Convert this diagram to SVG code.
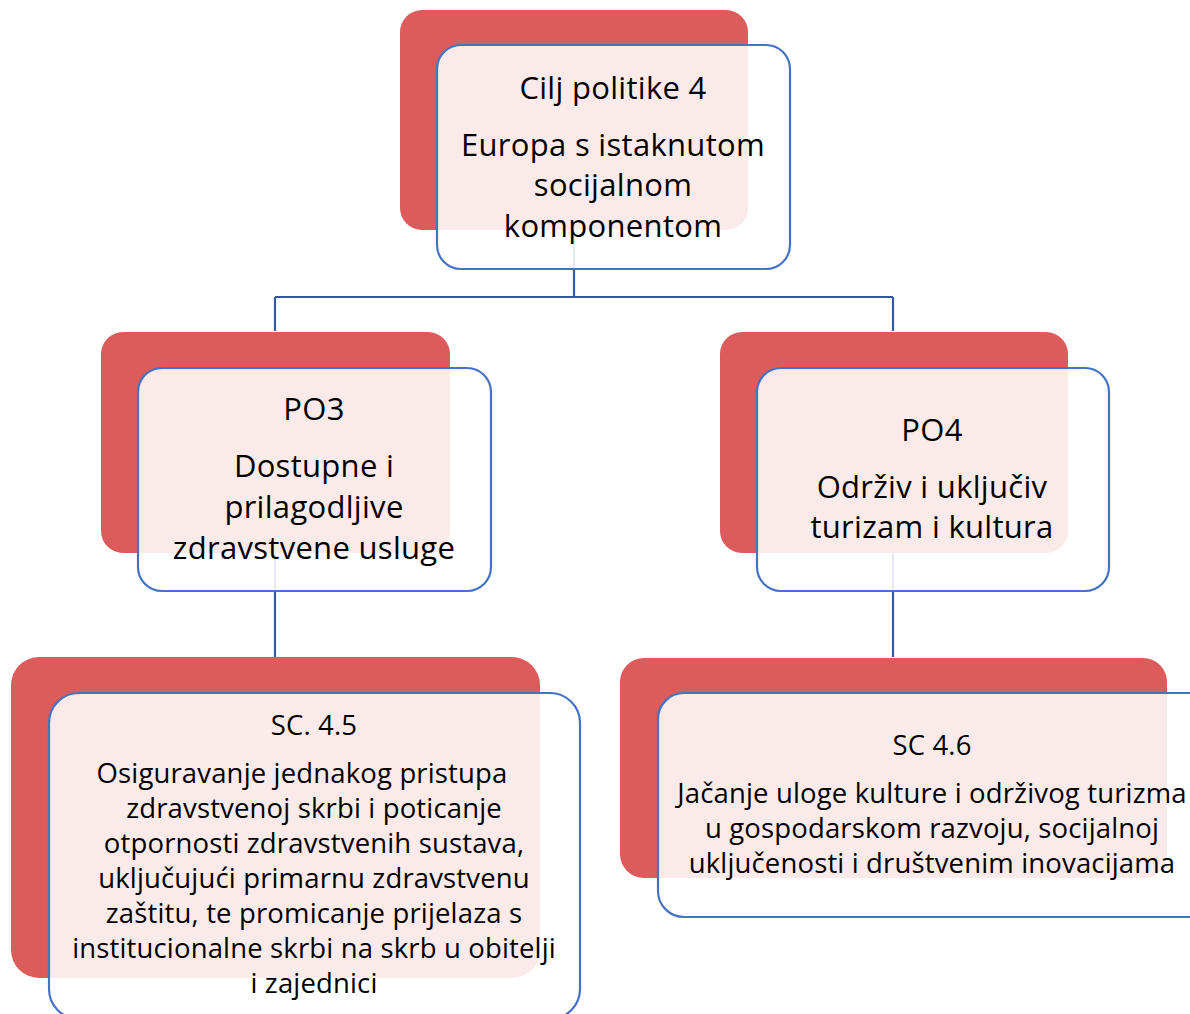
<svg xmlns="http://www.w3.org/2000/svg" width="1190" height="1014" viewBox="0 0 1190 1014">
<style>
.back{fill:#dc5c5c}
.front{fill:#ffffff;fill-opacity:0.87;stroke:#4472c4;stroke-width:2.2}
.conn{fill:none;stroke:#35599f;stroke-width:2.2}
text{font-family:"Open Sans",Lato,"Liberation Sans",sans-serif;fill:#000;text-anchor:middle}
.big{font-size:31px;letter-spacing:0.3px}
.small{font-size:27.5px;letter-spacing:0.15px}
</style>
<rect width="1190" height="1014" fill="#ffffff"/>
<g id="connectors">
<path class="conn" d="M574 230 V297 M275 297 H893 M275 297 V331 M893 297 V331"/>
<path class="conn" d="M275 553 V657"/>
<path class="conn" d="M893 553 V657"/>
</g>
<g id="node-cilj">
<rect class="back" x="400" y="10" width="348" height="220" rx="22"/>
<rect class="front" x="437" y="45" width="353" height="224" rx="24"/>
<text class="big" x="613" y="99">Cilj politike 4</text>
<text class="big" x="613" y="156">Europa s istaknutom</text>
<text class="big" x="613" y="196">socijalnom</text>
<text class="big" x="613" y="237">komponentom</text>
</g>
<g id="node-po3">
<rect class="back" x="101" y="332" width="349" height="221" rx="22"/>
<rect class="front" x="138" y="368" width="353" height="223" rx="24"/>
<text class="big" x="314" y="420">PO3</text>
<text class="big" x="314" y="477">Dostupne i</text>
<text class="big" x="314" y="518">prilagodljive</text>
<text class="big" x="314" y="559">zdravstvene usluge</text>
</g>
<g id="node-po4">
<rect class="back" x="720" y="332" width="348" height="221" rx="22"/>
<rect class="front" x="757" y="368" width="352" height="223" rx="24"/>
<text class="big" x="932" y="441">PO4</text>
<text class="big" x="932" y="498">Održiv i uključiv</text>
<text class="big" x="932" y="538">turizam i kultura</text>
</g>
<g id="node-sc45">
<rect class="back" x="11" y="657" width="529" height="321" rx="28"/>
<rect class="front" x="49" y="693" width="531" height="326" rx="30"/>
<text class="small" x="314" y="735">SC. 4.5</text>
<text class="small" x="302" y="783">Osiguravanje jednakog pristupa</text>
<text class="small" x="314" y="818">zdravstvenoj skrbi i poticanje</text>
<text class="small" x="314" y="853">otpornosti zdravstvenih sustava,</text>
<text class="small" x="314" y="888">uključujući primarnu zdravstvenu</text>
<text class="small" x="314" y="923">zaštitu, te promicanje prijelaza s</text>
<text class="small" x="314" y="958">institucionalne skrbi na skrb u obitelji</text>
<text class="small" x="314" y="993">i zajednici</text>
</g>
<g id="node-sc46">
<rect class="back" x="620" y="658" width="547" height="220" rx="24"/>
<rect class="front" x="658" y="693" width="560" height="224" rx="26"/>
<text class="small" x="932" y="755">SC 4.6</text>
<text class="small" x="932" y="803">Jačanje uloge kulture i održivog turizma</text>
<text class="small" x="932" y="838">u gospodarskom razvoju, socijalnoj</text>
<text class="small" x="932" y="873">uključenosti i društvenim inovacijama</text>
</g>
</svg>
